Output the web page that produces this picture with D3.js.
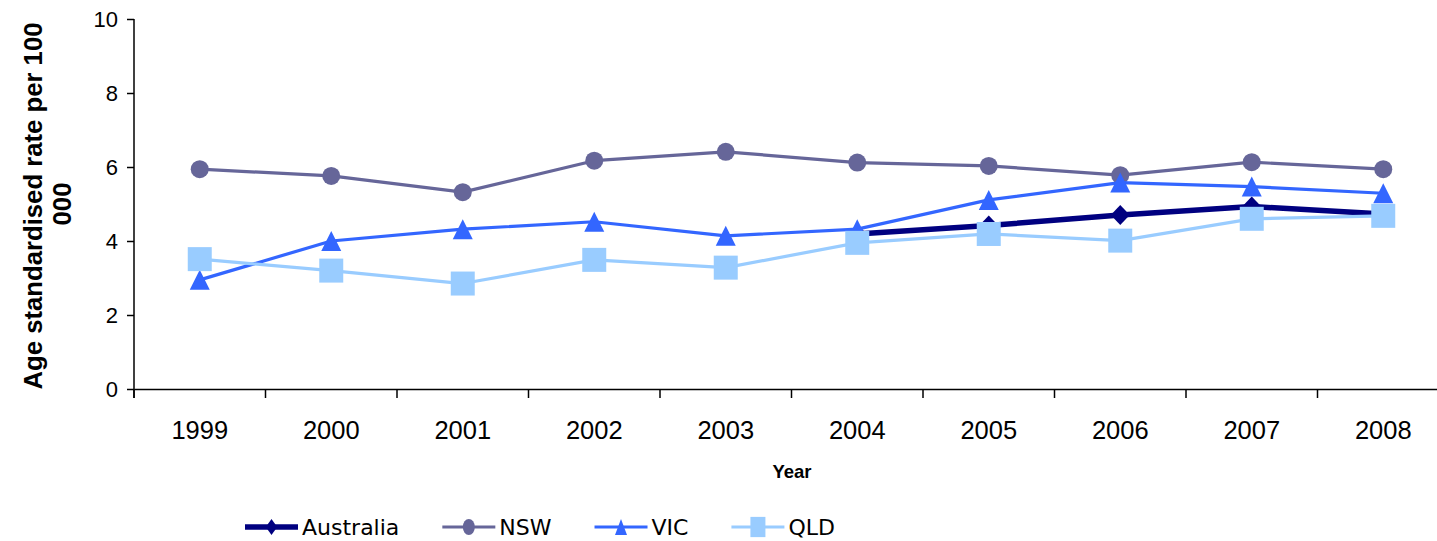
<!DOCTYPE html>
<html>
<head>
<meta charset="utf-8">
<script src="https://cdn.jsdelivr.net/npm/d3@7"></script>
<style>
  html, body { margin: 0; padding: 0; background: #fff; }
  svg { display: block; }
</style>
</head>
<body>
<svg id="chart" width="1437" height="541"></svg>
<script>
const years = ["1999","2000","2001","2002","2003","2004","2005","2006","2007","2008"];
const australia = [null, null, null, null, null, 4.19, 4.42, 4.70, 4.93, 4.73];
const nsw = [5.94, 5.76, 5.32, 6.17, 6.41, 6.12, 6.03, 5.78, 6.13, 5.94];
const vic = [2.95, 4.00, 4.32, 4.52, 4.14, 4.32, 5.11, 5.58, 5.47, 5.29];
const qld = [3.51, 3.20, 2.85, 3.49, 3.28, 3.95, 4.19, 4.01, 4.60, 4.68];
const seriesNames = ["Australia", "NSW", "VIC", "QLD"];
const yTicks = [0, 2, 4, 6, 8, 10];

const series = [
  { name: seriesNames[0], values: australia, color: "#000080", width: 5.5, marker: "diamond", size: 10 },
  { name: seriesNames[1], values: nsw, color: "#666699", width: 3.2, marker: "circle", size: 9 },
  { name: seriesNames[2], values: vic, color: "#3366FF", width: 3.2, marker: "triangle", size: 10 },
  { name: seriesNames[3], values: qld, color: "#99CCFF", width: 3.2, marker: "square", size: 12 }
];

const FONT = "'Liberation Sans', Arial, sans-serif";
const svg = d3.select("#chart");
const x = d3.scaleBand().domain(years).range([134, 1449]).padding(0);
const y = d3.scaleLinear().domain([0, 10]).range([389, 19]);
const cx = d => x(d) + x.bandwidth() / 2;

function markerPath(type, s) {
  if (type === "diamond") return `M0,${-s}L${s * 0.95},0L0,${s}L${-s * 0.95},0Z`;
  if (type === "triangle") return `M0,${-s}L${s},${s}L${-s},${s}Z`;
  if (type === "square") return `M${-s},${-s}H${s}V${s}H${-s}Z`;
  return d3.arc()({ innerRadius: 0, outerRadius: s, startAngle: 0, endAngle: 2 * Math.PI });
}

// Y axis
const yAxis = svg.append("g")
  .attr("transform", "translate(134,0)")
  .call(d3.axisLeft(y).tickValues(yTicks).tickSize(7).tickPadding(9).tickFormat(d3.format("d")));
yAxis.select(".domain").attr("stroke", "#000").attr("stroke-width", 1.5).attr("d", "M0,19V398");
yAxis.selectAll(".tick line").attr("stroke", "#000").attr("stroke-width", 1.5);
yAxis.selectAll(".tick text")
  .attr("font-family", FONT)
  .attr("font-size", 22).attr("fill", "#000");

// X axis labels
const xAxis = svg.append("g")
  .attr("transform", "translate(0,389)")
  .call(d3.axisBottom(x).tickSize(0).tickPadding(50));
xAxis.select(".domain").attr("stroke", "#000").attr("stroke-width", 1.5);
xAxis.selectAll(".tick text")
  .attr("font-family", FONT)
  .attr("font-size", 25.5).attr("fill", "#000").attr("dy", "0");
// boundary ticks
svg.append("g").selectAll("line")
  .data(years.concat(["end"]))
  .join("line")
  .attr("x1", (d, i) => i < years.length ? x(d) : x(years[years.length - 1]) + x.bandwidth())
  .attr("x2", (d, i) => i < years.length ? x(d) : x(years[years.length - 1]) + x.bandwidth())
  .attr("y1", 389).attr("y2", 398)
  .attr("stroke", "#000").attr("stroke-width", 1.5);

// Axis titles
const yTitle = svg.append("g")
  .attr("font-family", FONT)
  .attr("font-weight", "bold").attr("font-size", 25.7).attr("fill", "#000")
  .attr("text-anchor", "middle");
yTitle.append("text").attr("transform", "translate(42,206) rotate(-90)").text("Age standardised rate per 100");
yTitle.append("text").attr("transform", "translate(71,204) rotate(-90)").text("000");

svg.append("text")
  .attr("x", 792).attr("y", 478)
  .attr("text-anchor", "middle")
  .attr("font-family", FONT)
  .attr("font-weight", "bold").attr("font-size", 18.5)
  .text("Year");

// Series
const line = d3.line()
  .defined(d => d.v != null)
  .x(d => cx(d.year))
  .y(d => y(d.v));

series.forEach(s => {
  const pts = years.map((yr, i) => ({ year: yr, v: s.values[i] }));
  const g = svg.append("g");
  g.append("path")
    .datum(pts)
    .attr("fill", "none")
    .attr("stroke", s.color)
    .attr("stroke-width", s.width)
    .attr("stroke-linejoin", "round")
    .attr("d", line);
  g.selectAll("path.m")
    .data(pts.filter(d => d.v != null))
    .join("path")
    .attr("class", "m")
    .attr("transform", d => `translate(${cx(d.year)},${y(d.v)})`)
    .attr("d", markerPath(s.marker, s.size))
    .attr("fill", s.color);
});

// Legend
const legend = svg.append("g").attr("transform", "translate(245,527)");
let lx = 0;
series.forEach(s => {
  const item = legend.append("g").attr("transform", `translate(${lx},0)`);
  item.append("line").attr("x1", 0).attr("x2", 53).attr("y1", 0).attr("y2", 0)
    .attr("stroke", s.color).attr("stroke-width", s.width);
  item.append("path")
    .attr("transform", "translate(26.5,0) scale(1,1.35)")
    .attr("d", markerPath(s.marker, s.marker === "square" ? 7.5 : 6))
    .attr("fill", s.color);
  const t = item.append("text")
    .attr("x", 57).attr("y", 8)
    .attr("font-family", "'DejaVu Sans', Verdana, sans-serif")
    .attr("font-size", 22).attr("fill", "#000")
    .text(s.name);
  lx += 57 + t.node().getComputedTextLength() + 43;
});
</script>
</body>
</html>
